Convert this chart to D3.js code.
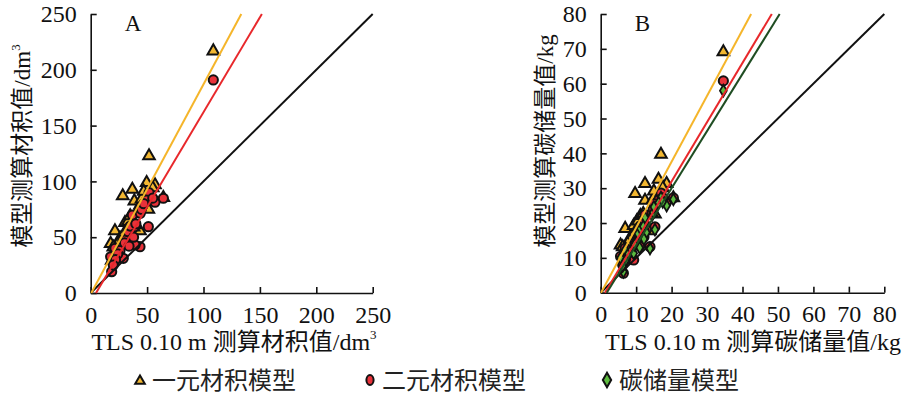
<!DOCTYPE html>
<html>
<head>
<meta charset="utf-8">
<script src="https://cdn.jsdelivr.net/npm/d3@7"></script>
<style>
  html, body { margin: 0; padding: 0; background: #ffffff; }
  svg { display: block; }
</style>
</head>
<body>
<svg id="chart" width="907" height="396"></svg>
<script>
// ---- Panel A: stem volume (dm³) ----
const volTLS     = [108.7, 51.7, 49.6, 57.0, 64.4, 28.4, 36.9, 38.7, 51.1, 44.0, 30.4, 21.5, 43.7, 17.7, 39.3, 18.6, 26.0, 28.9, 33.0, 35.0, 45.0, 24.0, 22.0, 30.0, 40.0, 47.0, 20.0, 34.0, 38.0, 55.0];
const volUnary   = [217.7, 123.7, 99.7, 97.7, 86.3, 87.8, 93.8, 83.3, 75.9, 80.0, 63.9, 56.5, 56.5, 45.1, 62.0, 30.0, 50.0, 48.0, 65.0, 70.0, 85.0, 45.0, 40.0, 55.0, 72.0, 92.0, 42.0, 52.0, 60.0, 95.0];
const volBinary  = [190.9, 89.9, 83.3, 81.3, 84.9, 47.5, 69.9, 59.4, 59.4, 71.4, 47.5, 40.0, 41.5, 32.5, 43.0, 19.1, 38.0, 31.1, 55.0, 60.0, 75.0, 35.0, 30.0, 45.0, 62.0, 80.0, 25.0, 42.0, 50.0, 85.0];

// ---- Panel B: carbon storage (kg) ----
const carbonTLS    = [34.6, 17.0, 16.3, 18.6, 20.5, 9.7, 12.5, 12.5, 15.3, 14.5, 10.2, 6.9, 13.9, 5.6, 12.9, 6.4, 8.3, 9.3, 10.5, 11.2, 14.8, 7.6, 7.0, 9.6, 12.0, 15.0, 6.2, 11.0, 12.2, 17.5];
const carbonUnary  = [69.4, 40.0, 32.8, 31.6, 27.5, 28.7, 31.6, 26.8, 22.8, 23.0, 20.9, 18.7, 18.0, 13.9, 19.8, 9.6, 16.0, 19.5, 20.8, 22.4, 27.2, 14.4, 12.8, 17.6, 23.0, 29.4, 13.4, 16.6, 19.2, 30.4];
const carbonBinary = [60.8, 28.6, 26.6, 26.0, 27.2, 15.2, 22.4, 19.0, 18.9, 22.8, 15.2, 12.8, 13.2, 10.4, 18.0, 5.6, 12.2, 9.4, 17.6, 19.2, 24.0, 11.2, 9.6, 14.4, 19.8, 25.6, 8.0, 13.4, 16.0, 27.2];
const carbonModel  = [58.0, 27.3, 25.8, 25.0, 26.8, 14.6, 21.5, 18.2, 18.1, 22.3, 14.6, 12.3, 12.7, 10.0, 17.3, 6.0, 11.7, 11.3, 16.9, 18.4, 23.0, 10.8, 9.2, 13.8, 19.0, 24.6, 7.7, 12.9, 15.4, 26.1];

// fitted lines: [slope, intercept]
const fitA = { unary: [1.88, -1.0], binary: [1.70, -8.0] };
const fitB = { unary: [1.89, -0.2], binary: [1.70, -2.05], carbon: [1.64, -2.8] };

const ticksA = [0, 50, 100, 150, 200, 250];
const ticksB = [0, 10, 20, 30, 40, 50, 60, 70, 80];

const legendLabels = ["一元材积模型", "二元材积模型", "碳储量模型"];

const FONT = "'Liberation Serif', 'DejaVu Serif', 'Noto Sans CJK SC', serif";

const COL = {
  unary: "#f2b731",
  unaryLine: "#f5b52a",
  binary: "#e8323a",
  binaryLine: "#e8282b",
  carbon: "#5dbb3f",
  carbonLine: "#1f4d22"
};

const svg = d3.select("#chart");

const triPath = d3.symbol().type(d3.symbolTriangle).size(58)();
const diaPath = d3.symbol().type(d3.symbolDiamond).size(40)();

function label(sel) {
  return sel.style("font-family", FONT).style("fill", "#111");
}

function panel(opts) {
  const g = svg.append("g");
  const x = d3.scaleLinear().domain([0, opts.max]).range(opts.xr);
  const y = d3.scaleLinear().domain([0, opts.max]).range(opts.yr);

  // axes with inward ticks
  const ax = g.append("g").attr("transform", `translate(0,${opts.yr[0]})`)
    .call(d3.axisBottom(x).tickValues(opts.ticks).tickSize(-6).tickSizeOuter(0).tickPadding(12));
  const ay = g.append("g").attr("transform", `translate(${opts.xr[0]},0)`)
    .call(d3.axisLeft(y).tickValues(opts.ticks).tickSize(-6).tickSizeOuter(0).tickPadding(14));
  [ax, ay].forEach(a => {
    a.selectAll("path,line").attr("stroke", "#111").attr("stroke-width", 1.6);
    label(a.selectAll("text")).style("font-size", "24px");
  });
  ax.selectAll("text").attr("dy", "0.74em");

  // scatter: triangles, circles, diamonds
  const pts = g.append("g");
  opts.tls.forEach((v, i) => {
    pts.append("path").attr("d", triPath)
      .attr("transform", `translate(${x(v)},${y(opts.unary[i]) + 1})`)
      .attr("fill", COL.unary).attr("stroke", "#111").attr("stroke-width", 2);
  });
  opts.tls.forEach((v, i) => {
    pts.append("circle").attr("cx", x(v)).attr("cy", y(opts.binary[i])).attr("r", 4.6)
      .attr("fill", COL.binary).attr("stroke", "#111").attr("stroke-width", 2);
  });
  if (opts.carbon) {
    opts.tls.forEach((v, i) => {
      pts.append("path").attr("d", diaPath)
        .attr("transform", `translate(${x(v)},${y(opts.carbon[i])})`)
        .attr("fill", COL.carbon).attr("stroke", "#111").attr("stroke-width", 1.8);
    });
  }

  // 1:1 line and regression lines
  const lines = g.append("g").attr("fill", "none");
  function fitLine(c, color, w) {
    const [m, b] = c;
    const x0 = Math.max(0, -b / m);
    const x1 = Math.min(opts.max, (opts.max - b) / m);
    lines.append("line")
      .attr("x1", x(x0)).attr("y1", y(m * x0 + b))
      .attr("x2", x(x1)).attr("y2", y(m * x1 + b))
      .attr("stroke", color).attr("stroke-width", w);
  }
  fitLine([1, 0], "#111", 2);
  opts.fits.forEach(f => fitLine(f.c, f.color, 2));

  // panel letter
  label(g.append("text").attr("x", opts.xr[0] + 34).attr("y", opts.yr[1] + 17))
    .style("font-size", "23px").text(opts.letter);

  // axis titles
  const yt = label(g.append("text")
    .attr("transform", `translate(${opts.ytX},${opts.ytY}) rotate(-90)`)
    .attr("text-anchor", "middle")).style("font-size", "23px");
  yt.append("tspan").text(opts.yTitle);
  if (opts.ySup) yt.append("tspan").style("font-size", "13px").attr("dy", -10).text(opts.ySup);

  const xt = label(g.append("text")
    .attr("x", opts.xtX).attr("y", 350)
    .attr("text-anchor", "middle")).style("font-size", "24px");
  xt.append("tspan").text(opts.xTitle);
  if (opts.xSup) xt.append("tspan").style("font-size", "13px").attr("dy", -11).text(opts.xSup);
}

panel({
  letter: "A", max: 250, ticks: ticksA,
  xr: [90.7, 372.7], yr: [293, 14],
  tls: volTLS, unary: volUnary, binary: volBinary,
  fits: [{ c: fitA.unary, color: COL.unaryLine }, { c: fitA.binary, color: COL.binaryLine }],
  yTitle: "模型测算材积值/dm", ySup: "3", ytX: 30, ytY: 146,
  xTitle: "TLS 0.10 m 测算材积值/dm", xSup: "3", xtX: 234
});

panel({
  letter: "B", max: 80, ticks: ticksB,
  xr: [600.7, 884.3], yr: [292.7, 14],
  tls: carbonTLS, unary: carbonUnary, binary: carbonBinary, carbon: carbonModel,
  fits: [{ c: fitB.unary, color: COL.unaryLine }, { c: fitB.binary, color: COL.binaryLine }, { c: fitB.carbon, color: COL.carbonLine }],
  yTitle: "模型测算碳储量值/kg", ytX: 553, ytY: 141,
  xTitle: "TLS 0.10 m 测算碳储量值/kg", xtX: 753
});

// legend
const leg = svg.append("g");
const legY = 380;
const legX = [140, 370, 607];
leg.append("path").attr("d", d3.symbol().type(d3.symbolTriangle).size(40)())
  .attr("transform", `translate(${legX[0]},${legY + 1})`)
  .attr("fill", COL.unary).attr("stroke", "#111").attr("stroke-width", 2);
leg.append("ellipse").attr("cx", legX[1]).attr("cy", legY).attr("rx", 3.6).attr("ry", 5)
  .attr("fill", COL.binary).attr("stroke", "#111").attr("stroke-width", 2);
leg.append("path").attr("d", d3.symbol().type(d3.symbolDiamond).size(60)())
  .attr("transform", `translate(${legX[2]},${legY})`)
  .attr("fill", COL.carbon).attr("stroke", "#111").attr("stroke-width", 2);
legendLabels.forEach((t, i) => {
  label(leg.append("text").attr("x", legX[i] + 12).attr("y", legY).attr("dy", "0.36em"))
    .style("font-size", "24px").style("fill", "#222").text(t);
});
</script>
</body>
</html>
